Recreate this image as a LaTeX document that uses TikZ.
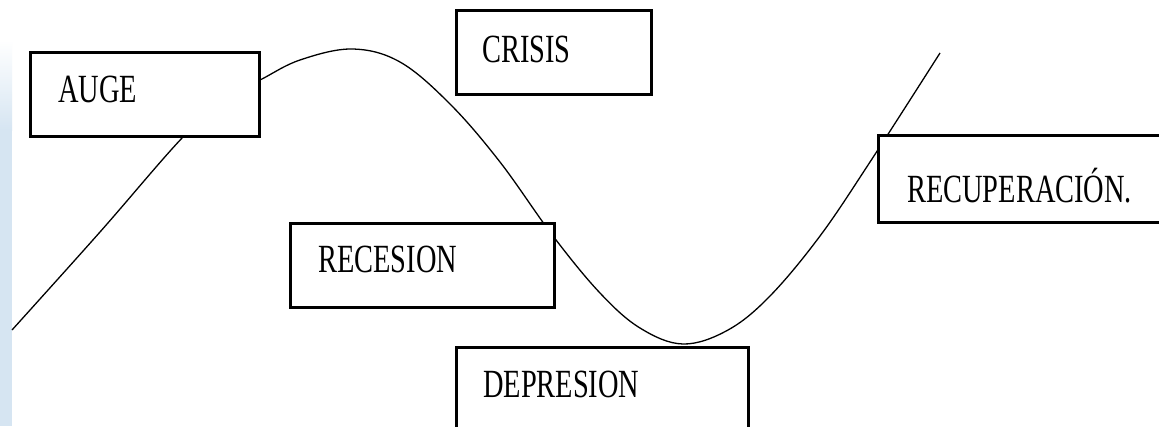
\documentclass[tikz,border=0pt]{standalone}
\usepackage{fontspec}
\setmainfont{Liberation Serif}
\usepackage{graphicx}
\definecolor{stripblue}{HTML}{D6E5F2}
\tikzset{
  box/.style={draw=black, line width=2.8pt, fill=white, rectangle, inner sep=0pt, anchor=north west},
  lbl/.style={inner sep=0pt, anchor=base west, font=\fontsize{40}{40}\selectfont},
  wave/.style={draw=black, line width=1.3pt}
}
\newcommand{\narrow}[1]{\scalebox{0.71}[1]{#1}}
\begin{document}
\begin{tikzpicture}[x=1pt,y=-1pt]
\useasboundingbox (0,0) rectangle (1159,426);
\fill[white] (0,0) rectangle (1159,426);
% left blue strip
\shade[top color=white, bottom color=stripblue] (0,40) rectangle (12,130);
\fill[stripblue] (0,129.5) rectangle (12,426);
% cycle curve
\draw[wave] plot[smooth, tension=0.6] coordinates {
 (12,330) (100,232) (183,137) (230,96) (262,79) (300,60) (352,49)
 (400,62) (450,104) (500,162) (553,236) (600,293) (640,328) (683,344)
 (728,330) (770,296) (820,236) (870,162) (940,53)};
% boxes
\node[box, minimum width=229pt, minimum height=84pt] (auge) at (29,51) {};
\node[box, minimum width=195pt, minimum height=84pt] (crisis) at (455,9) {};
\node[box, minimum width=264pt, minimum height=84pt] (recesion) at (289,222) {};
\node[box, minimum width=292pt, minimum height=100pt] (depresion) at (455,346) {};
\node[box, minimum width=300pt, minimum height=87pt] (recup) at (877,134) {};
% labels
\node[lbl] (tauge) at (58,102) {\narrow{AUGE}};
\node[lbl] (tcrisis) at (482,62) {\narrow{CRISIS}};
\node[lbl] (trecesion) at (318,272) {\narrow{RECESION}};
\node[lbl] (tdepresion) at (483,397) {\narrow{DEPRESION}};
\node[lbl] (trecup) at (907,202) {\narrow{RECUPERACIÓN.}};
\end{tikzpicture}
\end{document}
